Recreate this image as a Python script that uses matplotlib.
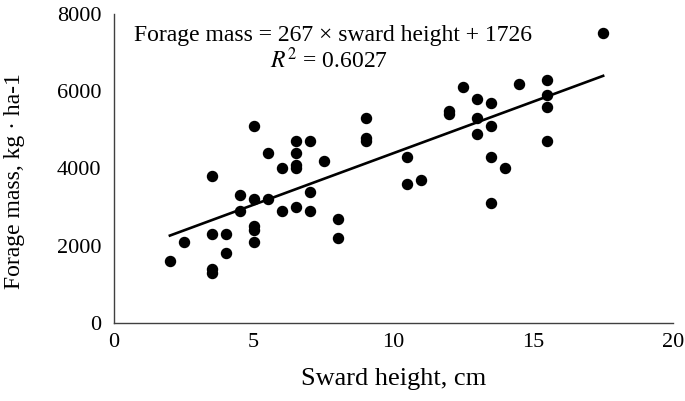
import numpy as np
import matplotlib.pyplot as plt

plt.rcParams["font.family"] = ["Liberation Serif", "DejaVu Serif"]
plt.rcParams["mathtext.fontset"] = "stix"

sward_height = [2, 2.5, 3.5, 3.5, 3.5, 3.5, 4, 4, 4.5, 4.5,
                5, 5, 5, 5, 5, 5.5, 5.5, 6, 6, 6.5,
                6.5, 6.5, 6.5, 6.5, 7, 7, 7, 7.5, 8, 8,
                9, 9, 9, 10.5, 10.5, 11, 12, 12, 12.5, 13,
                13, 13, 13.5, 13.5, 13.5, 13.5, 14, 14.5, 15.5, 15.5,
                15.5, 15.5, 17.5]
forage_mass = [1600, 2100, 3800, 2300, 1400, 1300, 2300, 1800, 3300, 2900,
               5100, 3200, 2500, 2400, 2100, 4400, 3200, 4000, 2900, 4700,
               4400, 4100, 4000, 3000, 4700, 3400, 2900, 4200, 2700, 2200,
               5300, 4800, 4700, 4300, 3600, 3700, 5500, 5400, 6100, 5800,
               5300, 4900, 5700, 5100, 4300, 3100, 4000, 6200, 6300, 5900,
               5600, 4700, 7500]

slope, intercept = 267, 1726
r2 = 0.6027

x = np.array(sward_height)
y = np.array(forage_mass)

fig, ax = plt.subplots(figsize=(6.85, 4.01), dpi=100)
fig.subplots_adjust(left=0.1664, right=0.9825, bottom=0.195, top=0.965)

ax.scatter(x, y, s=52, color="black", zorder=3)
xl = np.array([x.min(), x.max()])
ax.plot(xl, slope * xl + intercept, color="black", lw=1.9)

ax.set_xlim(0, 20)
ax.set_ylim(0, 8000)
ax.set_xticks([0, 5, 10, 15, 20])
ax.set_yticks([0, 2000, 4000, 6000, 8000])
ax.tick_params(length=0, labelsize=16)
ax.tick_params(axis="x", pad=7)
ax.tick_params(axis="y", pad=9)
for s in ["top", "right"]:
    ax.spines[s].set_visible(False)
for s in ["left", "bottom"]:
    ax.spines[s].set_color("#404040")
    ax.spines[s].set_linewidth(1.0)

ax.set_xlabel("Sward height, cm", fontsize=19)
ax.set_ylabel("Forage mass, kg · ha-1", fontsize=17)
ax.xaxis.set_label_coords(0.5, -0.147)
ax.yaxis.set_label_coords(-0.16, 0.46)

ax.text(7.82, 7450, "Forage mass = 267 × sward height + 1726",
        fontsize=17, ha="center", va="center")
ax.text(7.7, 6800, f"$R^2$ = {r2}", fontsize=17, ha="center", va="center")

fig.savefig("out.png")
